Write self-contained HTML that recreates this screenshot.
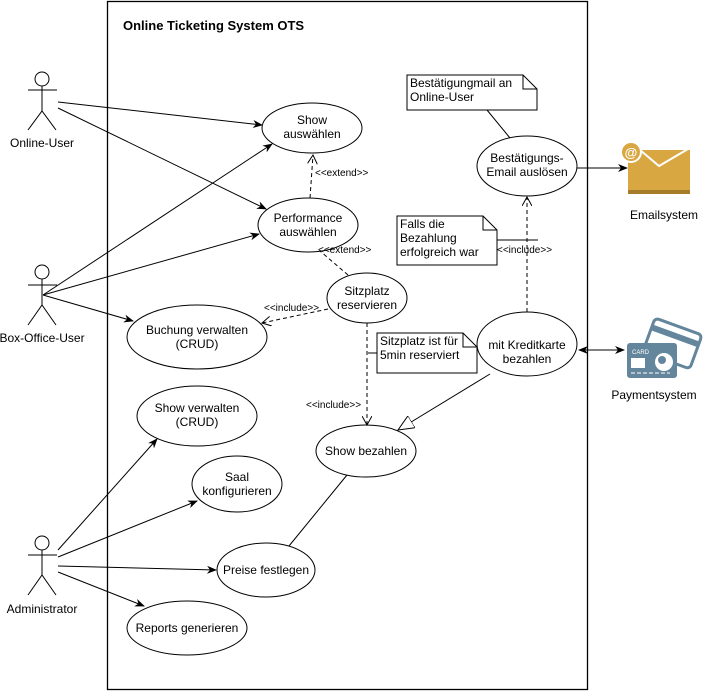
<!DOCTYPE html>
<html><head><meta charset="utf-8"><style>
html,body{margin:0;padding:0;background:#fff;}
svg{display:block;}
text{font-family:"Liberation Sans",Arial,sans-serif;font-size:12px;fill:#000;}
.s{font-size:10px;}
</style></head><body>
<svg width="725" height="692" viewBox="0 0 725 692" xmlns="http://www.w3.org/2000/svg">
<defs>
<marker id="a" markerWidth="10" markerHeight="8" refX="9" refY="4" orient="auto" markerUnits="userSpaceOnUse"><path d="M0,0 L10,4 L0,8 L3,4 Z" fill="#000"/></marker>
<marker id="as" markerWidth="10" markerHeight="8" refX="1" refY="4" orient="auto" markerUnits="userSpaceOnUse"><path d="M10,0 L0,4 L10,8 L7,4 Z" fill="#000"/></marker>
<marker id="o" markerWidth="10" markerHeight="10" refX="9" refY="5" orient="auto" markerUnits="userSpaceOnUse"><path d="M0,0 L9,5 L0,10" fill="none" stroke="#000"/></marker>
<marker id="t" markerWidth="18" markerHeight="14" refX="16" refY="7" orient="auto" markerUnits="userSpaceOnUse"><path d="M0,0 L16,7 L0,14 Z" fill="#fff" stroke="#000"/></marker>
</defs>
<rect x="107.5" y="1.5" width="480" height="688" fill="none" stroke="#000" stroke-width="1.3"/>
<text x="123" y="30" style="font-weight:bold;font-size:13px">Online  Ticketing System OTS</text>

<g stroke="#000" fill="none">
<!-- actors -->
<circle cx="42" cy="79" r="7" fill="#fff"/><line x1="42" y1="86" x2="42" y2="111"/><line x1="28" y1="90" x2="57" y2="90"/><path d="M28,130 L42,111 L56,130"/>
<circle cx="42" cy="272" r="7" fill="#fff"/><line x1="42" y1="279" x2="42" y2="305"/><line x1="28" y1="285" x2="57" y2="285"/><path d="M28,325 L42,305 L56,325"/>
<circle cx="42" cy="543" r="7" fill="#fff"/><line x1="42" y1="550" x2="42" y2="575"/><line x1="28" y1="555" x2="57" y2="555"/><path d="M28,595 L42,575 L56,595"/>

<!-- ellipses -->
<ellipse cx="312" cy="128" rx="50" ry="25" fill="#fff"/>
<ellipse cx="308" cy="225" rx="50" ry="27" fill="#fff"/>
<ellipse cx="367" cy="298" rx="40" ry="25" fill="#fff"/>
<ellipse cx="197" cy="337" rx="70" ry="32" fill="#fff"/>
<ellipse cx="197" cy="416" rx="60" ry="30" fill="#fff"/>
<ellipse cx="237" cy="484" rx="45" ry="28" fill="#fff"/>
<ellipse cx="266" cy="570" rx="49" ry="27" fill="#fff"/>
<ellipse cx="187" cy="628" rx="60" ry="27" fill="#fff"/>
<ellipse cx="366" cy="451" rx="50" ry="26" fill="#fff"/>
<ellipse cx="527" cy="344" rx="50" ry="32" fill="#fff"/>
<ellipse cx="527" cy="166" rx="50" ry="30" fill="#fff"/>

<!-- associations -->
<line x1="58" y1="102" x2="262" y2="125" marker-end="url(#a)"/>
<line x1="58" y1="108" x2="266" y2="209" marker-end="url(#a)"/>
<line x1="43" y1="295" x2="272" y2="144" marker-end="url(#a)"/>
<line x1="43" y1="295" x2="259" y2="234" marker-end="url(#a)"/>
<line x1="43" y1="295" x2="133" y2="321" marker-end="url(#a)"/>
<line x1="58" y1="550" x2="157" y2="439" marker-end="url(#a)"/>
<line x1="58" y1="557" x2="197" y2="501" marker-end="url(#a)"/>
<line x1="58" y1="566" x2="216" y2="570" marker-end="url(#a)"/>
<line x1="58" y1="572" x2="144" y2="606" marker-end="url(#a)"/>

<!-- dashed -->
<line x1="310" y1="198" x2="313" y2="155" stroke-dasharray="4,3" marker-end="url(#o)"/>
<line x1="348" y1="275" x2="320" y2="251" stroke-dasharray="4,3"/>
<line x1="328" y1="309" x2="262" y2="323" stroke-dasharray="4,3" marker-end="url(#o)"/>
<line x1="367" y1="323" x2="367" y2="425" stroke-dasharray="4,3" marker-end="url(#o)"/>
<line x1="527" y1="312" x2="527" y2="197" stroke-dasharray="4,3" marker-end="url(#o)"/>

<line x1="490" y1="374" x2="398" y2="430" marker-end="url(#t)"/>
<line x1="347" y1="475" x2="289" y2="546"/>
<line x1="577" y1="168" x2="627" y2="168" marker-end="url(#a)"/>
<line x1="579" y1="350" x2="624" y2="350" marker-start="url(#as)" marker-end="url(#a)"/>

<!-- note connectors -->
<line x1="487" y1="110" x2="510" y2="138"/>
<line x1="497" y1="240" x2="538" y2="240"/>
<line x1="368" y1="353" x2="377" y2="353"/>

<!-- notes -->
<path d="M407,75 L523,75 L537,89 L537,110 L407,110 Z M523,75 L523,89 L537,89" fill="#fff"/>
<path d="M397,216 L483,216 L497,230 L497,265 L397,265 Z M483,216 L483,230 L497,230" fill="#fff"/>
<path d="M377,333 L463,333 L477,347 L477,373 L377,373 Z M463,333 L463,347 L477,347" fill="#fff"/>
</g>

<!-- labels -->
<g text-anchor="middle">
<text x="42" y="147">Online-User</text>
<text x="42" y="342">Box-Office-User</text>
<text x="42" y="613">Administrator</text>
<text x="312" y="124">Show</text><text x="312" y="138">auswählen</text>
<text x="308" y="222">Performance</text><text x="308" y="236">auswählen</text>
<text x="367" y="295">Sitzplatz</text><text x="367" y="309">reservieren</text>
<text x="197" y="334">Buchung verwalten</text><text x="197" y="348">(CRUD)</text>
<text x="197" y="412">Show verwalten</text><text x="197" y="426">(CRUD)</text>
<text x="237" y="481">Saal</text><text x="237" y="495">konfigurieren</text>
<text x="266" y="574">Preise festlegen</text>
<text x="187" y="632">Reports generieren</text>
<text x="366" y="455">Show bezahlen</text>
<text x="527" y="349">mit Kreditkarte</text><text x="527" y="363">bezahlen</text>
<text x="527" y="162">Bestätigungs-</text><text x="527" y="176">Email auslösen</text>
<text x="664" y="219">Emailsystem</text>
<text x="654" y="399">Paymentsystem</text>
</g>
<text x="410" y="87">Bestätigungmail an</text><text x="410" y="101">Online-User</text>
<text x="400" y="228">Falls die</text><text x="400" y="242">Bezahlung</text><text x="400" y="256">erfolgreich war</text>
<text x="380" y="345">Sitzplatz ist für</text><text x="380" y="359">5min reserviert</text>
<text class="s" x="315" y="176">&lt;&lt;extend&gt;&gt;</text>
<text class="s" x="318" y="253">&lt;&lt;extend&gt;&gt;</text>
<text class="s" x="264" y="311">&lt;&lt;include&gt;&gt;</text>
<text class="s" x="306" y="408">&lt;&lt;include&gt;&gt;</text>
<text class="s" x="497" y="253">&lt;&lt;include&gt;&gt;</text>

<!-- email icon -->
<rect x="628" y="150" width="62" height="44" fill="#D9A741"/>
<rect x="628" y="190" width="62" height="4" fill="#A57C2A"/>
<path d="M640,150 L659,166 L688,149" fill="none" stroke="#fff" stroke-width="2"/>
<circle cx="631" cy="152" r="11" fill="#fff"/>
<circle cx="631" cy="152" r="9" fill="#D9A741"/>
<text x="631" y="157" text-anchor="middle" style="fill:#fff;font-weight:bold;font-size:13px">@</text>

<!-- payment icon -->
<g transform="rotate(20 670 350)"><rect x="645" y="325" width="50" height="36" rx="4" fill="#fff" stroke="#64869C" stroke-width="3"/><rect x="645" y="332" width="50" height="6" fill="#64869C"/></g>
<rect x="627" y="343" width="50" height="35" rx="3" fill="#64869C"/>
<text x="632" y="354" style="fill:#fff;font-size:6px">CARD</text>
<rect x="631" y="358" width="14" height="10" fill="#fff"/>
<circle cx="664" cy="362" r="9" fill="#fff"/>
<circle cx="662" cy="360" r="4" fill="#64869C"/>
<line x1="631" y1="373" x2="670" y2="373" stroke="#fff" stroke-dasharray="4,2"/>
</svg>
</body></html>
